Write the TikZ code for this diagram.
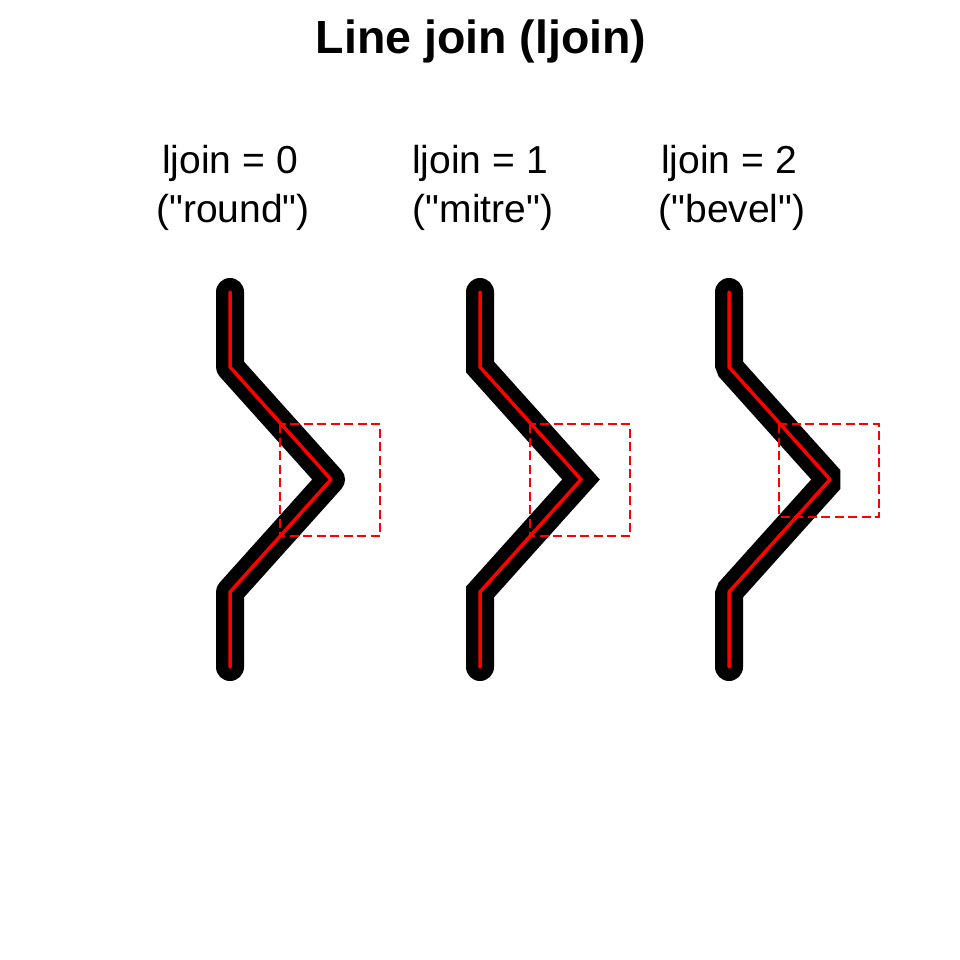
\documentclass[tikz,border=0pt]{standalone}
\usepackage{fontspec}
\setmainfont{Liberation Sans}[Ligatures=TeXOff]
\usetikzlibrary{positioning}

\tikzset{
  labeltext/.style={font=\fontsize{39}{47}\selectfont, anchor=base, inner sep=0pt},
  zigzag/.style={line width=28pt, line cap=round},
  guide/.style={red, line width=3.5pt, line cap=round},
  joinbox/.style={red, line width=1.7pt, dash pattern=on 9pt off 4.5pt}
}

\begin{document}
\begin{tikzpicture}[x=1pt, y=-1pt]
            \useasboundingbox (0,0) rectangle (960,960);
            % Title
            \node[font=\fontsize{46.5}{56}\bfseries, anchor=base, inner sep=0pt] (title) at (481,54) {Line join (ljoin)};
            % One panel per join style
            \foreach \n/\x/\j/\lab/\b in {0/230/round/round/536, 1/480/miter/mitre/536, 2/729/bevel/bevel/517} {
                \node[labeltext] (lab\n) at (\x,174) {ljoin = \n};
                \node[labeltext] (sub\n) at (\x+3,222) {("\lab")};
                \draw[zigzag, line join=\j] (\x,292) -- (\x,367) -- (\x+101,479.5) -- (\x,592) -- (\x,667);
                \draw[guide, line join=\j] (\x,292) -- (\x,367) -- (\x+101,479.5) -- (\x,592) -- (\x,667);
                \draw[joinbox] (\x+50,424) rectangle (\x+150,\b);
            }
        \end{tikzpicture}
\end{document}
